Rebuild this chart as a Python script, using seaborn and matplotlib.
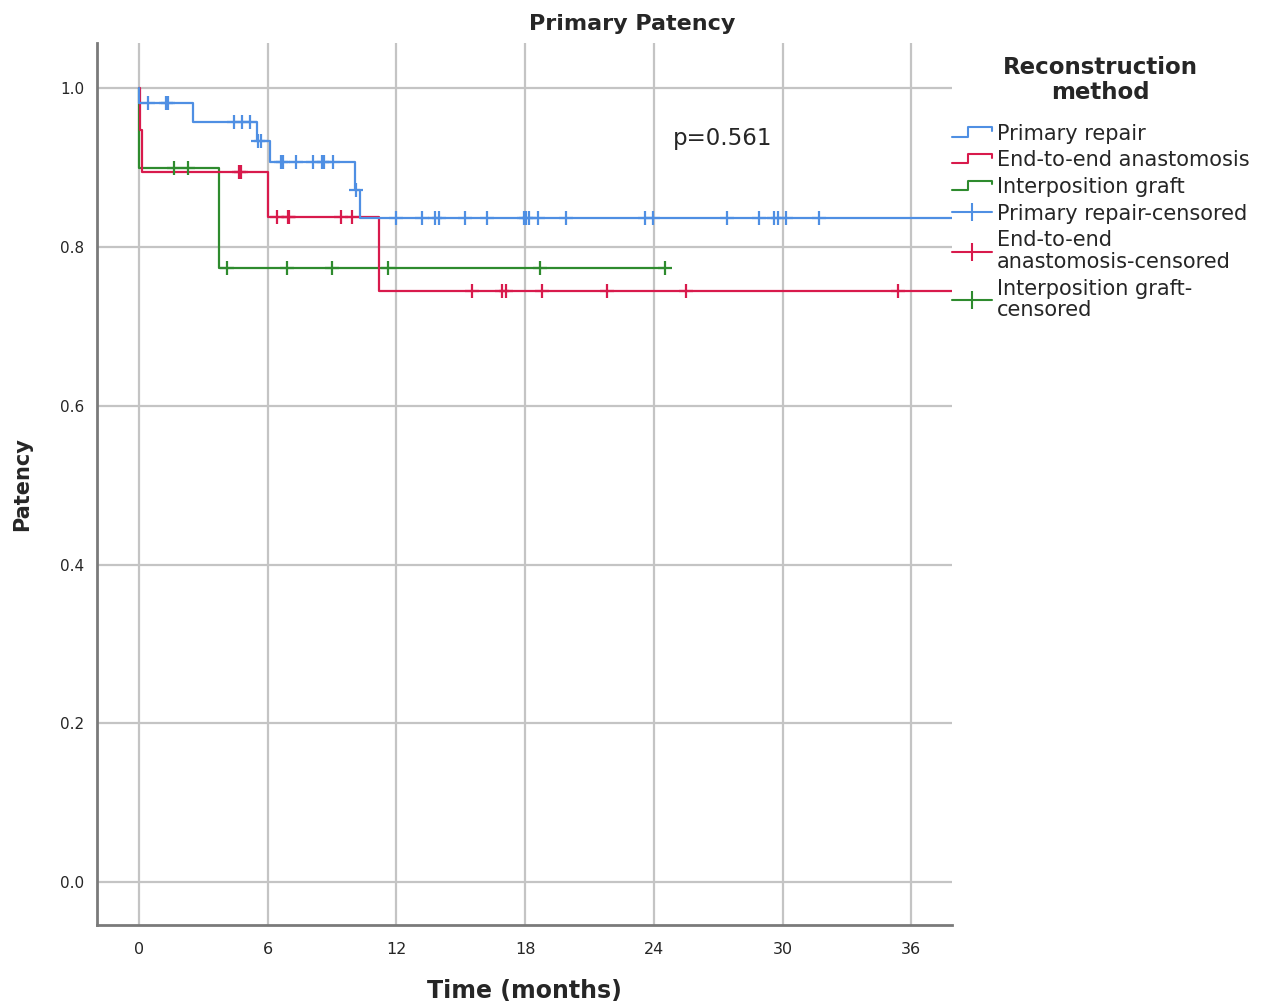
import numpy as np
import pandas as pd
import matplotlib
matplotlib.use("Agg")
import matplotlib.pyplot as plt
import seaborn as sns
from matplotlib.lines import Line2D
from matplotlib.legend_handler import HandlerBase

# step curves: time of each drop and level after it
blue_drop_t = [0.0, 2.5, 5.52, 6.1, 10.05, 10.3]
blue_drop_s = [0.981, 0.958, 0.934, 0.907, 0.872, 0.836]
blue_end = 40.0
blue_cens = [0.43, 1.25, 1.35, 4.43, 4.79, 5.19, 5.55, 5.7, 6.63, 6.72, 7.33, 8.13,
             8.52, 8.62, 9.02, 10.1, 12.0, 13.2, 13.8, 14.0, 15.2, 16.2, 17.93, 18.06,
             18.17, 18.6, 19.9, 23.6, 23.97, 27.4, 28.9, 29.6, 29.8, 30.16, 31.7]

red_drop_t = [0.05, 0.15, 6.02, 11.2]
red_drop_s = [0.947, 0.895, 0.838, 0.745]
red_end = 40.0
red_cens = [4.67, 4.73, 6.42, 6.94, 7.01, 9.41, 9.91, 15.5, 16.9, 17.1, 18.8, 21.8,
            25.5, 35.4]

green_drop_t = [0.0, 3.73]
green_drop_s = [0.90, 0.773]
green_end = 24.5
green_cens = [1.63, 2.3, 4.12, 6.9, 8.99, 11.6, 18.7, 24.5]

groups = ["Primary repair", "End-to-end anastomosis", "Interposition graft"]
colors = {"Primary repair": "#4f8fe3",
          "End-to-end anastomosis": "#d81a4c",
          "Interposition graft": "#2e8b2e"}

x_ticks = [0, 6, 12, 18, 24, 30, 36]
y_ticks = [0.0, 0.2, 0.4, 0.6, 0.8, 1.0]


def step_frame(name, drop_t, drop_s, end):
    t = [0.0] + list(drop_t) + [end]
    s = [1.0] + list(drop_s) + [drop_s[-1]]
    return pd.DataFrame({"time": t, "surv": s, "group": name})


def cens_frame(name, drop_t, drop_s, cens):
    t = np.array(drop_t)
    lv = np.array([1.0] + list(drop_s))
    idx = np.searchsorted(t, np.array(cens), side="right")
    return pd.DataFrame({"time": cens, "surv": lv[idx], "group": name})


curves = [(groups[0], blue_drop_t, blue_drop_s, blue_end, blue_cens),
          (groups[1], red_drop_t, red_drop_s, red_end, red_cens),
          (groups[2], green_drop_t, green_drop_s, green_end, green_cens)]

sns.set_style("white")
plt.rcParams["font.family"] = ["DejaVu Sans"]

fig = plt.figure(figsize=(12.77, 10.06), dpi=100)
ax = fig.add_axes([97 / 1277, 1 - 925 / 1006, (952 - 97) / 1277, (925 - 43) / 1006])

# draw green first, then red, then blue on top
for name, dt, ds, end, cens in reversed(curves):
    df = step_frame(name, dt, ds, end)
    sns.lineplot(data=df, x="time", y="surv", ax=ax, color=colors[name],
                 estimator=None, sort=False, drawstyle="steps-post", lw=1.6,
                 legend=False)
    cf = cens_frame(name, dt, ds, cens)
    sns.scatterplot(data=cf, x="time", y="surv", ax=ax, color=colors[name],
                    marker="+", s=110, linewidth=1.6, legend=False, zorder=3)

ax.set_xlim(-1.96, 37.9)
ax.set_ylim(-0.054, 1.057)
ax.set_xticks(x_ticks)
ax.set_yticks(y_ticks)
ax.set_xticklabels([str(v) for v in x_ticks], fontsize=11.5)
ax.set_yticklabels([f"{v:.1f}" for v in y_ticks], fontsize=11)
ax.tick_params(length=0)
ax.tick_params(axis="x", pad=12)
ax.tick_params(axis="y", pad=9)
ax.grid(True, color="#c4c4c4", lw=1.6)
ax.set_axisbelow(True)
for side in ["top", "right"]:
    ax.spines[side].set_visible(False)
for side in ["left", "bottom"]:
    ax.spines[side].set_color("#7a7a7a")
    ax.spines[side].set_linewidth(2)

ax.set_xlabel("Time (months)", fontsize=17, fontweight="bold", labelpad=16)
ax.set_ylabel("Patency", fontsize=15, fontweight="bold", labelpad=20)
fig.text(632 / 1277, 1 - 24 / 1006, "Primary Patency", fontsize=16,
         fontweight="bold", ha="center", va="center")
ax.text(24.9, 0.937, "p=0.561", fontsize=16.5, ha="left", va="center")


class StepHandler(HandlerBase):
    def create_artists(self, legend, orig_handle, xdescent, ydescent,
                       width, height, fontsize, trans):
        lo = -ydescent + 0.2 * height
        hi = -ydescent + 0.85 * height
        xs = [-xdescent, -xdescent + 0.4 * width, -xdescent + 0.4 * width,
              -xdescent + width, -xdescent + width]
        ys = [lo, lo, hi, hi, hi - 0.25 * height]
        ln = Line2D(xs, ys, color=orig_handle.get_color(), lw=1.5, transform=trans)
        return [ln]


handles = []
labels = []
for name in groups:
    handles.append(Line2D([], [], color=colors[name]))
    labels.append(name)
cens_labels = ["Primary repair-censored", "End-to-end\nanastomosis-censored",
               "Interposition graft-\ncensored"]
for name, lab in zip(groups, cens_labels):
    handles.append(Line2D([0], [0], color=colors[name], lw=1.5, marker="|",
                          markersize=13, mew=1.5))
    labels.append(lab)

handler_map = {h: StepHandler() for h in handles[:3]}
leg = fig.legend(handles, labels, handler_map=handler_map,
                 title="Reconstruction\nmethod", loc="upper left",
                 bbox_to_anchor=(952 / 1277, 1 - 56 / 1006), frameon=False,
                 fontsize=15, title_fontproperties={"weight": "bold", "size": 16.5},
                 handlelength=1.9, handletextpad=0.25, labelspacing=0.32,
                 borderpad=0, borderaxespad=0, alignment="center")
leg.get_title().set_multialignment("center")
leg.get_title().set_linespacing(1.12)
for t in leg.get_texts():
    t.set_linespacing(1.1)
leg._legend_box.sep = 14

fig.savefig("out.png", dpi=100)
